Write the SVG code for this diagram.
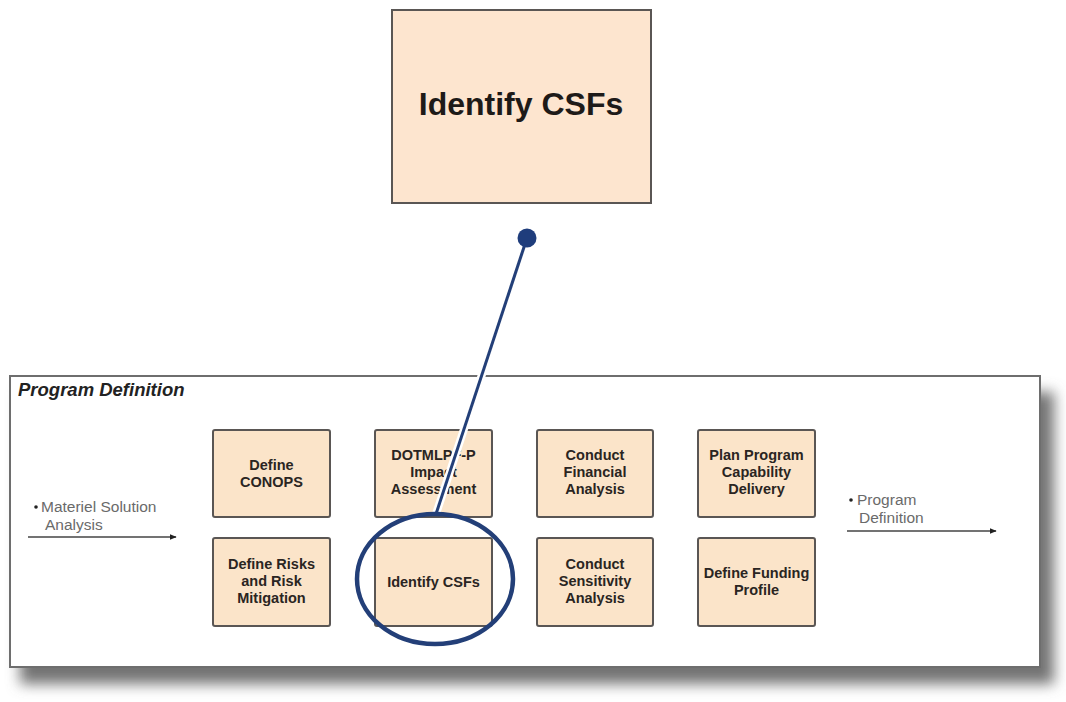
<svg xmlns="http://www.w3.org/2000/svg" width="1066" height="702" viewBox="0 0 1066 702">
  <style>
    .step rect { fill: #fbe4c9; stroke: #5a5654; stroke-width: 2; }
    .step text { font-family: "Liberation Sans", Arial, sans-serif; font-weight: bold; font-size: 14.5px; fill: #2a2522; text-anchor: middle; }
    .flow text { font-family: "Liberation Sans", Arial, sans-serif; font-size: 15.5px; fill: #6a6a6a; }
    .flow .dot { fill: #222; }
    .flow line { stroke: #444; stroke-width: 1.5; }
    .callout { stroke: #233f78; fill: none; }
  </style>
  <defs>
    <filter id="soft" x="-10%" y="-10%" width="120%" height="130%">
      <feGaussianBlur stdDeviation="7"/>
    </filter>
    <marker id="head" viewBox="0 0 10 10" refX="9" refY="5" markerWidth="7" markerHeight="7" orient="auto" markerUnits="userSpaceOnUse">
      <path d="M0,1 L10,5 L0,9 z" fill="#222"/>
    </marker>
  </defs>

  <rect width="1066" height="702" fill="#ffffff"/>

  <!-- zoomed-in activity -->
  <g id="identify-csfs-large">
    <rect x="392" y="10" width="259" height="193" fill="#fde5cf" stroke="#5a5654" stroke-width="2"/>
    <text x="521" y="115" font-family="Liberation Sans, Arial, sans-serif" font-weight="bold" font-size="32" fill="#1e1a18" text-anchor="middle">Identify CSFs</text>
  </g>

  <!-- program definition frame with drop shadow -->
  <g id="program-definition">
    <rect x="20" y="392" width="1034" height="292" fill="#737373" filter="url(#soft)"/>
    <rect x="10" y="376" width="1030" height="291" fill="#ffffff" stroke="#6e6e6e" stroke-width="2"/>
    <text x="18" y="396" font-family="Liberation Sans, Arial, sans-serif" font-weight="bold" font-style="italic" font-size="18.5" fill="#222">Program Definition</text>
  </g>

  <!-- input / output flows -->
  <g id="flow-in" class="flow">
    <circle class="dot" cx="36" cy="507" r="1.8"/>
    <text x="41" y="512">Materiel Solution</text>
    <text x="45" y="530">Analysis</text>
    <line x1="28" y1="537" x2="176" y2="537" marker-end="url(#head)"/>
  </g>
  <g id="flow-out" class="flow">
    <circle class="dot" cx="851" cy="500" r="1.8"/>
    <text x="857" y="505">Program</text>
    <text x="859" y="523">Definition</text>
    <line x1="847" y1="531" x2="996" y2="531" marker-end="url(#head)"/>
  </g>

  <!-- activities -->
  <g id="define-conops" class="step">
    <rect x="213" y="430" width="117" height="87" rx="2"/>
    <text x="271.5" y="470">Define</text>
    <text x="271.5" y="487">CONOPS</text>
  </g>
  <g id="dotmlpf-p" class="step">
    <rect x="375" y="430" width="117" height="87" rx="2"/>
    <text x="433.5" y="460">DOTMLPF-P</text>
    <text x="433.5" y="477">Impact</text>
    <text x="433.5" y="494">Assessment</text>
  </g>
  <g id="conduct-financial" class="step">
    <rect x="537" y="430" width="116" height="87" rx="2"/>
    <text x="595" y="460">Conduct</text>
    <text x="595" y="477">Financial</text>
    <text x="595" y="494">Analysis</text>
  </g>
  <g id="plan-capability" class="step">
    <rect x="698" y="430" width="117" height="87" rx="2"/>
    <text x="756.5" y="460">Plan Program</text>
    <text x="756.5" y="477">Capability</text>
    <text x="756.5" y="494">Delivery</text>
  </g>
  <g id="define-risks" class="step">
    <rect x="213" y="538" width="117" height="88" rx="2"/>
    <text x="271.5" y="569">Define Risks</text>
    <text x="271.5" y="586">and Risk</text>
    <text x="271.5" y="603">Mitigation</text>
  </g>
  <g id="identify-csfs" class="step">
    <rect x="375" y="538" width="117" height="88" rx="2"/>
    <text x="433.5" y="587">Identify CSFs</text>
  </g>
  <g id="conduct-sensitivity" class="step">
    <rect x="537" y="538" width="116" height="88" rx="2"/>
    <text x="595" y="569">Conduct</text>
    <text x="595" y="586">Sensitivity</text>
    <text x="595" y="603">Analysis</text>
  </g>
  <g id="define-funding" class="step">
    <rect x="698" y="538" width="117" height="88" rx="2"/>
    <text x="756.5" y="578">Define Funding</text>
    <text x="756.5" y="595">Profile</text>
  </g>

  <!-- callout linking the highlighted activity to its enlarged view -->
  <g id="connectors">
    <line x1="527" y1="238" x2="436" y2="514" stroke="#ffffff" stroke-width="8"/>
    <line class="callout" x1="527" y1="238" x2="436" y2="514" stroke-width="3"/>
    <circle cx="527" cy="238" r="9.5" fill="#1f3d7c"/>
    <ellipse class="callout" cx="435" cy="579" rx="78" ry="65" stroke-width="4.5"/>
  </g>
</svg>
